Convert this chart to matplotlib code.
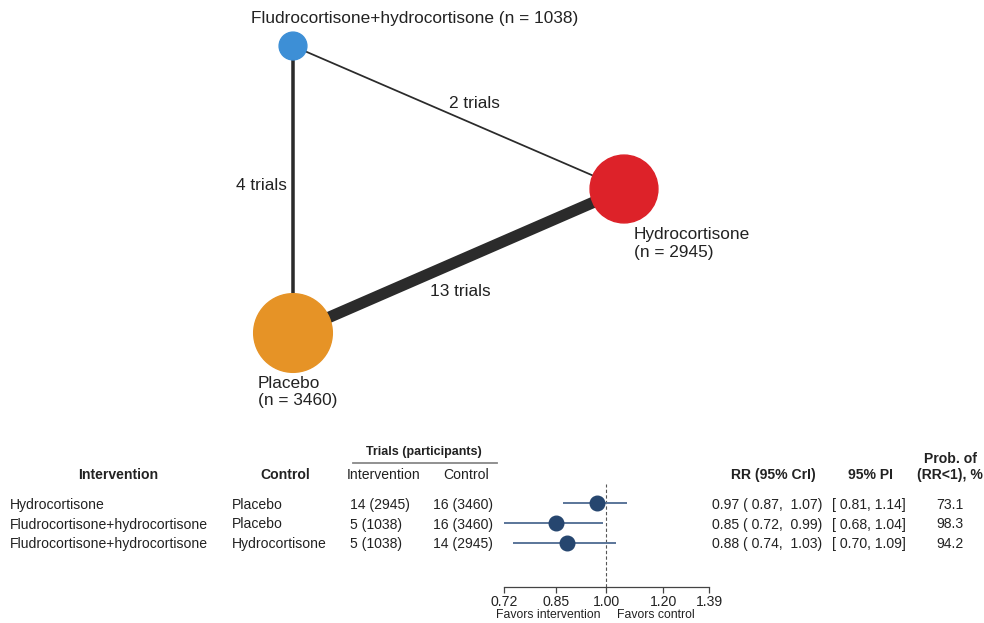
import numpy as np
import matplotlib
matplotlib.use("Agg")
import matplotlib.pyplot as plt
from matplotlib.patches import Circle
from matplotlib.ticker import FixedLocator, NullLocator

plt.rcParams['font.family'] = ['Liberation Sans', 'DejaVu Sans']

# ---- network data ----
treatments = ['Fludrocortisone+hydrocortisone', 'Hydrocortisone', 'Placebo']
participants = [1038, 2945, 3460]
node_colors = ['#3d8fd6', '#dd2229', '#e69326']
edges = [('Fludrocortisone+hydrocortisone', 'Placebo', 4),
         ('Fludrocortisone+hydrocortisone', 'Hydrocortisone', 2),
         ('Placebo', 'Hydrocortisone', 13)]

# ---- forest / table data ----
interventions = ['Hydrocortisone', 'Fludrocortisone+hydrocortisone', 'Fludrocortisone+hydrocortisone']
controls = ['Placebo', 'Placebo', 'Hydrocortisone']
trials_int = ['14 (2945)', '5 (1038)', '5 (1038)']
trials_ctl = ['16 (3460)', '16 (3460)', '14 (2945)']
rr = [0.97, 0.85, 0.88]
cri_lo = [0.87, 0.72, 0.74]
cri_hi = [1.07, 0.99, 1.03]
pi_lo = [0.81, 0.68, 0.70]
pi_hi = [1.14, 1.04, 1.09]
prob = [73.1, 98.3, 94.2]
xticks = [0.72, 0.85, 1.00, 1.20, 1.39]

W, H = 984, 623
fig = plt.figure(figsize=(W / 100, H / 100), dpi=100)
ax = fig.add_axes([0, 0, 1, 1])
ax.set_xlim(0, W)
ax.set_ylim(H, 0)
ax.axis('off')

txt = '#222222'
nfs = 12.4

# network layout (pixel positions)
pos = {'Fludrocortisone+hydrocortisone': (293, 46),
       'Hydrocortisone': (624, 189),
       'Placebo': (293, 333)}

for a, b, n in edges:
    (x1, y1), (x2, y2) = pos[a], pos[b]
    ax.plot([x1, x2], [y1, y2], color='#2b2b2b', lw=n * 0.88 * 0.72,
            solid_capstyle='butt', zorder=1)

for name, n, c in zip(treatments, participants, node_colors):
    r = 3.0 + 0.0105 * n
    ax.add_patch(Circle(pos[name], r, color=c, zorder=2))

ax.text(415, 18, 'Fludrocortisone+hydrocortisone (n = 1038)', ha='center', va='center',
        fontsize=nfs, color=txt)
ax.text(634, 243, 'Hydrocortisone\n(n = 2945)', ha='left', va='center',
        fontsize=nfs, color=txt, linespacing=1.25)
ax.text(258, 392, 'Placebo\n(n = 3460)', ha='left', va='center',
        fontsize=nfs, color=txt, linespacing=1.25)
ax.text(474, 103, '2 trials', ha='center', va='center', fontsize=nfs, color=txt)
ax.text(287, 185, '4 trials', ha='right', va='center', fontsize=nfs, color=txt)
ax.text(460, 292, '13 trials', ha='center', va='center', fontsize=nfs, color=txt)

# ---- table ----
fs = 10.1
ax.text(118, 475, 'Intervention', ha='center', va='center', fontsize=fs, weight='bold', color=txt)
ax.text(285, 475, 'Control', ha='center', va='center', fontsize=fs, weight='bold', color=txt)
ax.text(424, 452, 'Trials (participants)', ha='center', va='center', fontsize=9, weight='bold', color=txt)
ax.plot([353, 497], [462.5, 462.5], color='#888888', lw=1.3)
ax.text(384, 475, 'Intervention', ha='center', va='center', fontsize=fs, color=txt)
ax.text(466, 475, 'Control', ha='center', va='center', fontsize=fs, color=txt)
ax.text(773, 475, 'RR (95% CrI)', ha='center', va='center', fontsize=fs, weight='bold', color=txt)
ax.text(870, 475, '95% PI', ha='center', va='center', fontsize=fs, weight='bold', color=txt)
ax.text(950, 467, 'Prob. of\n(RR<1), %', ha='center', va='center', fontsize=fs, weight='bold',
        color=txt, linespacing=1.2)

row_y = [505, 524.5, 544]
for i, y in enumerate(row_y):
    ax.text(10, y, interventions[i], ha='left', va='center', fontsize=fs, color=txt)
    ax.text(232, y, controls[i], ha='left', va='center', fontsize=fs, color=txt)
    ax.text(350, y, trials_int[i], ha='left', va='center', fontsize=fs, color=txt)
    ax.text(433, y, trials_ctl[i], ha='left', va='center', fontsize=fs, color=txt)
    ax.text(712, y, '%.2f ( %.2f,  %.2f)' % (rr[i], cri_lo[i], cri_hi[i]),
            ha='left', va='center', fontsize=fs, color=txt)
    ax.text(832, y, '[ %.2f, %.2f]' % (pi_lo[i], pi_hi[i]),
            ha='left', va='center', fontsize=fs, color=txt)
    ax.text(950, y, '%.1f' % prob[i], ha='center', va='center', fontsize=fs, color=txt)

ax.text(601, 615.5, 'Favors intervention', ha='right', va='center', fontsize=8.8, color=txt)
ax.text(617, 615.5, 'Favors control', ha='left', va='center', fontsize=8.8, color=txt)

# ---- forest plot ----
x0, x1 = 504, 709
ytop, ybot = 484, 587
fx = fig.add_axes([x0 / W, (H - ybot) / H, (x1 - x0) / W, (ybot - ytop) / H])
fx.set_xscale('log')
fx.set_xlim(xticks[0], xticks[-1])
fx.set_ylim(4.2, -0.95)
fx.patch.set_alpha(0)
for s in ['top', 'left', 'right']:
    fx.spines[s].set_visible(False)
fx.spines['bottom'].set_color('#444444')
fx.spines['bottom'].set_linewidth(0.9)
fx.xaxis.set_major_locator(FixedLocator(xticks))
fx.xaxis.set_minor_locator(NullLocator())
fx.set_xticklabels(['%.2f' % t for t in xticks])
fx.tick_params(axis='x', direction='out', length=4, width=0.9, color='#444444',
               labelsize=fs, labelcolor=txt, pad=2)
fx.set_yticks([])
fx.axvline(1.0, color='#555555', lw=0.8, ls=(0, (3, 2)))
rows = np.arange(len(rr))
fx.hlines(rows, cri_lo, cri_hi, color='#5a7599', lw=1.4)
fx.plot(rr, rows, 'o', color='#26466f', ms=10.5, zorder=3)

fig.savefig('out.png', dpi=100)
